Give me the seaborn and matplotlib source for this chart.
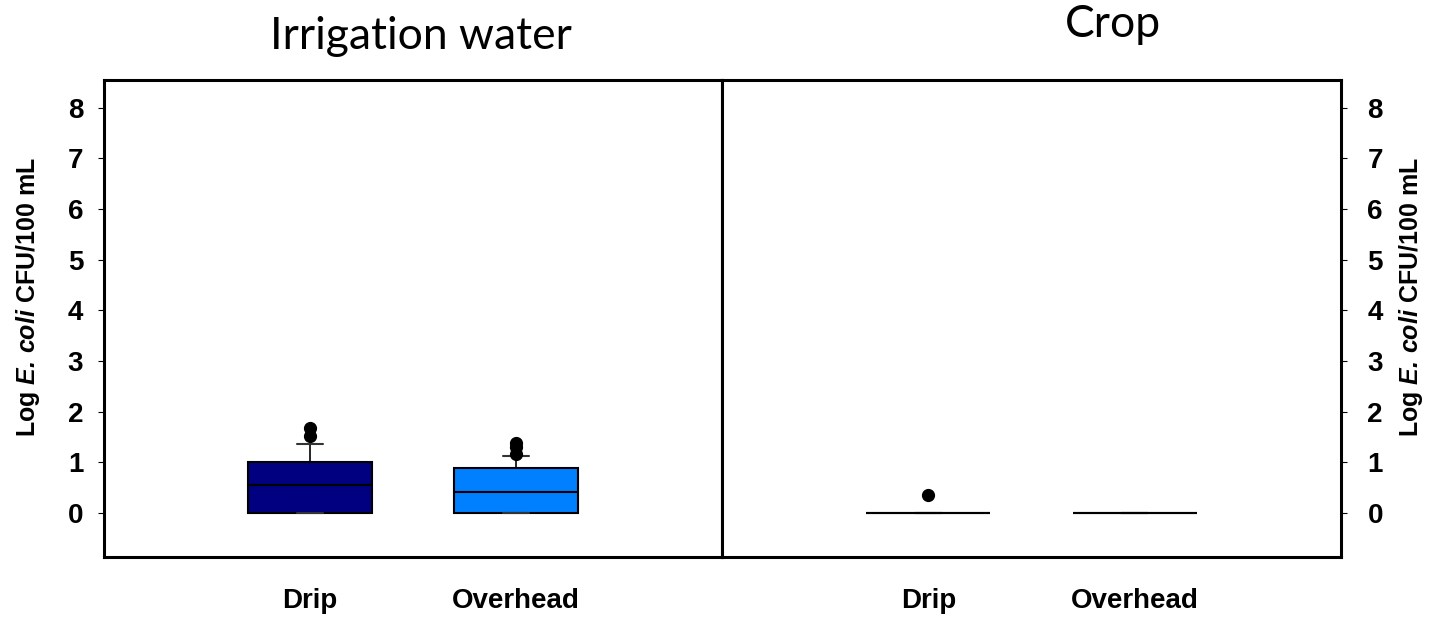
import numpy as np
import pandas as pd
import seaborn as sns
import matplotlib.pyplot as plt

# sample values (log E. coli CFU/100 mL)
water_drip = [0, 0, 0, 0, 0, 0, 0.15, 0.3, 0.45, 0.5, 0.6, 0.7, 0.8, 0.9,
              1.0, 1.0, 1.2, 1.37, 1.52, 1.68]
water_overhead = [0, 0, 0, 0, 0, 0, 0, 0, 0, 0.1, 0.18, 0.25, 0.3, 0.36, 0.4,
                  0.44, 0.5, 0.58, 0.65, 0.72, 0.8, 0.88, 0.88, 0.95, 1.0,
                  1.05, 1.12, 1.16, 1.3, 1.38]
crop_drip = [0] * 19 + [0.35]
crop_overhead = [0] * 20

methods = ['Drip', 'Overhead']
colors = {'Drip': '#000080', 'Overhead': '#0080ff'}
yticks = [0, 1, 2, 3, 4, 5, 6, 7, 8]
panel_titles = ['Irrigation water', 'Crop']

sns.set_style('white')
plt.rcParams['font.family'] = ['Liberation Sans', 'DejaVu Sans']
plt.rcParams['text.color'] = 'black'
plt.rcParams['axes.labelcolor'] = 'black'
plt.rcParams['xtick.color'] = 'black'
plt.rcParams['ytick.color'] = 'black'
plt.rcParams['mathtext.fontset'] = 'custom'
plt.rcParams['mathtext.bfit'] = 'Liberation Sans:italic:bold'
plt.rcParams['mathtext.it'] = 'Liberation Sans:italic'
plt.rcParams['mathtext.bf'] = 'Liberation Sans:bold'
plt.rcParams['mathtext.rm'] = 'Liberation Sans'


def make_df(drip, overhead):
    return pd.DataFrame({
        'method': ['Drip'] * len(drip) + ['Overhead'] * len(overhead),
        'value': list(drip) + list(overhead),
    })


water_df = make_df(water_drip, water_overhead)
crop_df = make_df(crop_drip, crop_overhead)

fig = plt.figure(figsize=(14.33, 6.18), dpi=100)
ax1 = fig.add_axes([104 / 1433, 61 / 618, 618 / 1433, 477 / 618])
ax2 = fig.add_axes([722 / 1433, 61 / 618, 619 / 1433, 477 / 618])

ylabel = r'Log $\mathbfit{E.\,coli}$ CFU/100 mL'

for ax, df in [(ax1, water_df), (ax2, crop_df)]:
    sns.boxplot(data=df, x='method', y='value', hue='method', order=methods,
                palette=colors, saturation=1, legend=False, width=0.6,
                whis=(10, 90), ax=ax, capwidths=0.13, linewidth=1.2,
                linecolor='black',
                boxprops=dict(edgecolor='black', linewidth=1.5),
                medianprops=dict(color='black', linewidth=1.5),
                whiskerprops=dict(color='black', linewidth=1.2),
                capprops=dict(color='#333333', linewidth=1.5),
                flierprops=dict(marker='o', markerfacecolor='black',
                                markeredgecolor='black', markersize=8.5))
    ax.set_xlim(-1, 2)
    ax.set_ylim(-0.87, 8.55)
    ax.set_yticks(yticks)
    ax.set_xlabel('')
    for s in ax.spines.values():
        s.set_visible(True)
        s.set_linewidth(2.2)
        s.set_color('black')
    ax.tick_params(axis='x', length=0, pad=22, labelsize=20)
    for lab in ax.get_xticklabels():
        lab.set_fontweight('bold')

ax1.tick_params(axis='y', left=True, right=False, direction='out', length=4,
                width=0.8, pad=11, labelsize=20)
ax1.set_yticklabels([str(t) for t in yticks], fontweight='bold')
ax1.set_ylabel(ylabel, fontsize=18, fontweight='bold')
ax1.yaxis.set_label_coords(-0.1003, 0.545)

ax2.yaxis.tick_right()
ax2.yaxis.set_label_position('right')
ax2.tick_params(axis='y', left=False, right=True, direction='out', length=4,
                width=0.8, pad=15, labelsize=20)
ax2.set_yticklabels([str(t) for t in yticks], fontweight='bold')
ax2.set_ylabel(ylabel, fontsize=18, fontweight='bold', rotation=90)
ax2.yaxis.set_label_coords(1.0905, 0.545)

fig.text(270 / 1433, 1 - 49 / 618, panel_titles[0], ha='left', va='baseline',
         fontsize=32, family=['Lato', 'DejaVu Sans'])
fig.text(1065 / 1433, 1 - 37 / 618, panel_titles[1], ha='left', va='baseline',
         fontsize=32, family=['Lato', 'DejaVu Sans'])

fig.savefig('out.png', dpi=100)
